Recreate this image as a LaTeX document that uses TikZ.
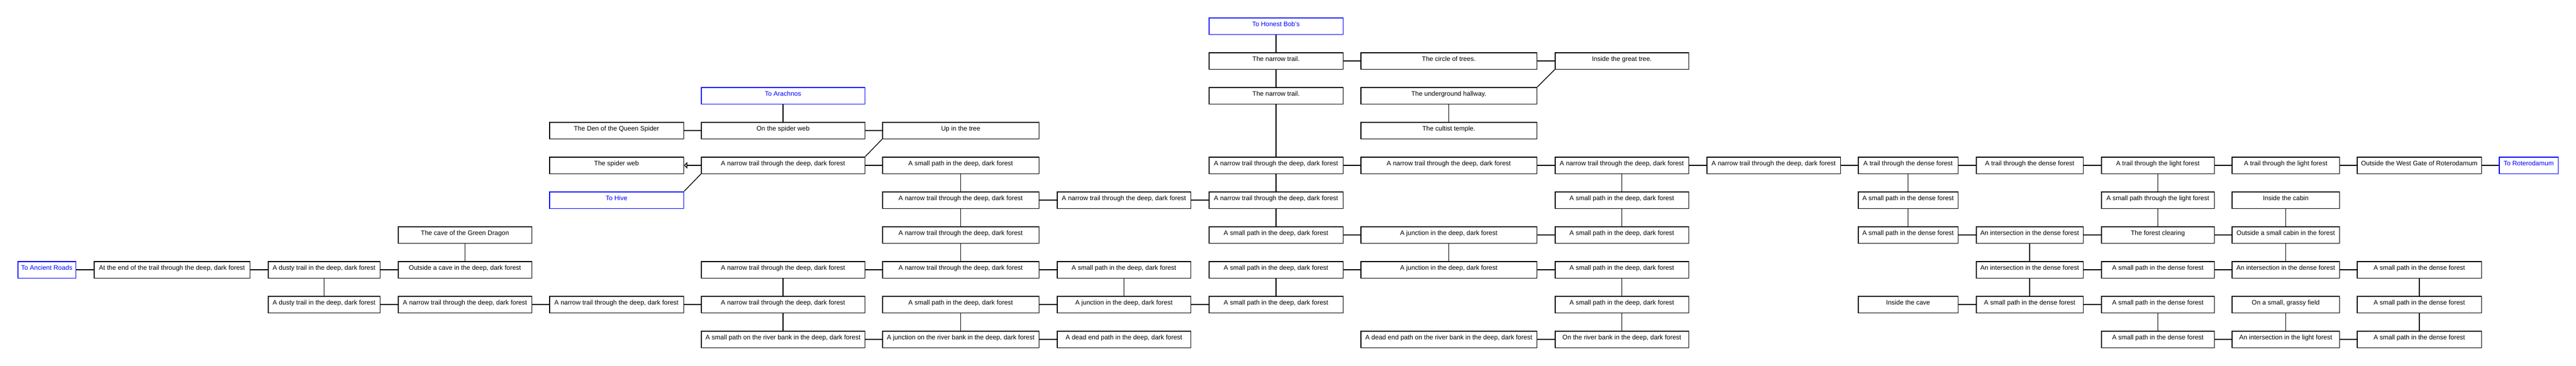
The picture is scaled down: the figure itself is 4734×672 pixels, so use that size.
\documentclass[tikz,border=0pt]{standalone}
\usepackage{fontspec}
\setmainfont{Liberation Sans}
\usepackage{xcolor}
\usetikzlibrary{arrows.meta}

\tikzset{
  room/.style={draw, line width=1.5pt, minimum height=30.5pt, inner sep=2pt,
    font=\fontsize{12pt}{14pt}\selectfont, text height=8pt, text depth=8pt},
  exitroom/.style={room, draw=blue, text=blue},
  link/.style={line width=1.4pt},
}

\begin{document}
\begin{tikzpicture}[x=1pt, y=-1pt]
    \useasboundingbox (0,0) rectangle (4734,672);

    % West
    \node[exitroom, minimum width=106.5pt] (c0r8) at (86, 496) {To Ancient Roads};
    \node[room, minimum width=286.5pt] (c1r8) at (316, 496) {At the end of the trail through the deep, dark forest};
    \node[room, minimum width=205.5pt] (c2r8) at (595.5, 496) {A dusty trail in the deep, dark forest};
    \node[room, minimum width=205.5pt] (c2r9) at (595.5, 560) {A dusty trail in the deep, dark forest};
    \node[room, minimum width=245.5pt] (c3r7) at (854.5, 432) {The cave of the Green Dragon};
    \node[room, minimum width=245.5pt] (c3r8) at (854.5, 496) {Outside a cave in the deep, dark forest};
    \node[room, minimum width=245.5pt] (c3r9) at (854.5, 560) {A narrow trail through the deep, dark forest};

    % Spider area
    \node[room, minimum width=246.5pt] (c4r4) at (1133, 240) {The Den of the Queen Spider};
    \node[room, minimum width=246.5pt] (c4r5) at (1133, 304) {The spider web};
    \node[exitroom, minimum width=246.5pt] (c4r6) at (1133, 368) {To Hive};
    \node[room, minimum width=246.5pt] (c4r9) at (1133, 560) {A narrow trail through the deep, dark forest};
    \node[exitroom, minimum width=300.5pt] (c5r3) at (1439, 176) {To Arachnos};
    \node[room, minimum width=300.5pt] (c5r4) at (1439, 240) {On the spider web};
    \node[room, minimum width=300.5pt] (c5r5) at (1439, 304) {A narrow trail through the deep, dark forest};
    \node[room, minimum width=300.5pt] (c5r8) at (1439, 496) {A narrow trail through the deep, dark forest};
    \node[room, minimum width=300.5pt] (c5r9) at (1439, 560) {A narrow trail through the deep, dark forest};
    \node[room, minimum width=300.5pt] (c5r10) at (1439, 624) {A small path on the river bank in the deep, dark forest};
    \node[room, minimum width=287.5pt] (c6r4) at (1765.5, 240) {Up in the tree};
    \node[room, minimum width=287.5pt] (c6r5) at (1765.5, 304) {A small path in the deep, dark forest};
    \node[room, minimum width=287.5pt] (c6r6) at (1765.5, 368) {A narrow trail through the deep, dark forest};
    \node[room, minimum width=287.5pt] (c6r7) at (1765.5, 432) {A narrow trail through the deep, dark forest};
    \node[room, minimum width=287.5pt] (c6r8) at (1765.5, 496) {A narrow trail through the deep, dark forest};
    \node[room, minimum width=287.5pt] (c6r9) at (1765.5, 560) {A small path in the deep, dark forest};
    \node[room, minimum width=287.5pt] (c6r10) at (1765.5, 624) {A junction on the river bank in the deep, dark forest};
    \node[room, minimum width=245.5pt] (c7r6) at (2065.5, 368) {A narrow trail through the deep, dark forest};
    \node[room, minimum width=245.5pt] (c7r8) at (2065.5, 496) {A small path in the deep, dark forest};
    \node[room, minimum width=245.5pt] (c7r9) at (2065.5, 560) {A junction in the deep, dark forest};
    \node[room, minimum width=245.5pt] (c7r10) at (2065.5, 624) {A dead end path in the deep, dark forest};

    % Great tree
    \node[exitroom, minimum width=246.5pt] (c8r1) at (2345, 48) {To Honest Bob's};
    \node[room, minimum width=246.5pt] (c8r2) at (2345, 112) {The narrow trail.};
    \node[room, minimum width=246.5pt] (c8r3) at (2345, 176) {The narrow trail.};
    \node[room, minimum width=246.5pt] (c8r5) at (2345, 304) {A narrow trail through the deep, dark forest};
    \node[room, minimum width=246.5pt] (c8r6) at (2345, 368) {A narrow trail through the deep, dark forest};
    \node[room, minimum width=246.5pt] (c8r7) at (2345, 432) {A small path in the deep, dark forest};
    \node[room, minimum width=246.5pt] (c8r8) at (2345, 496) {A small path in the deep, dark forest};
    \node[room, minimum width=246.5pt] (c8r9) at (2345, 560) {A small path in the deep, dark forest};
    \node[room, minimum width=323.5pt] (c9r2) at (2662.5, 112) {The circle of trees.};
    \node[room, minimum width=323.5pt] (c9r3) at (2662.5, 176) {The underground hallway.};
    \node[room, minimum width=323.5pt] (c9r4) at (2662.5, 240) {The cultist temple.};
    \node[room, minimum width=323.5pt] (c9r5) at (2662.5, 304) {A narrow trail through the deep, dark forest};
    \node[room, minimum width=323.5pt] (c9r7) at (2662.5, 432) {A junction in the deep, dark forest};
    \node[room, minimum width=323.5pt] (c9r8) at (2662.5, 496) {A junction in the deep, dark forest};
    \node[room, minimum width=323.5pt] (c9r10) at (2662.5, 624) {A dead end path on the river bank in the deep, dark forest};
    \node[room, minimum width=245.5pt] (c10r2) at (2980.5, 112) {Inside the great tree.};
    \node[room, minimum width=245.5pt] (c10r5) at (2980.5, 304) {A narrow trail through the deep, dark forest};
    \node[room, minimum width=245.5pt] (c10r6) at (2980.5, 368) {A small path in the deep, dark forest};
    \node[room, minimum width=245.5pt] (c10r7) at (2980.5, 432) {A small path in the deep, dark forest};
    \node[room, minimum width=245.5pt] (c10r8) at (2980.5, 496) {A small path in the deep, dark forest};
    \node[room, minimum width=245.5pt] (c10r9) at (2980.5, 560) {A small path in the deep, dark forest};
    \node[room, minimum width=245.5pt] (c10r10) at (2980.5, 624) {On the river bank in the deep, dark forest};

    % East
    \node[room, minimum width=245.5pt] (c11r5) at (3259.5, 304) {A narrow trail through the deep, dark forest};
    \node[room, minimum width=183.5pt] (c12r5) at (3506.5, 304) {A trail through the dense forest};
    \node[room, minimum width=183.5pt] (c12r6) at (3506.5, 368) {A small path in the dense forest};
    \node[room, minimum width=183.5pt] (c12r7) at (3506.5, 432) {A small path in the dense forest};
    \node[room, minimum width=183.5pt] (c12r9) at (3506.5, 560) {Inside the cave};
    \node[room, minimum width=196.5pt] (c13r5) at (3730, 304) {A trail through the dense forest};
    \node[room, minimum width=196.5pt] (c13r7) at (3730, 432) {An intersection in the dense forest};
    \node[room, minimum width=196.5pt] (c13r8) at (3730, 496) {An intersection in the dense forest};
    \node[room, minimum width=196.5pt] (c13r9) at (3730, 560) {A small path in the dense forest};
    \node[room, minimum width=207.5pt] (c14r5) at (3965.5, 304) {A trail through the light forest};
    \node[room, minimum width=207.5pt] (c14r6) at (3965.5, 368) {A small path through the light forest};
    \node[room, minimum width=207.5pt] (c14r7) at (3965.5, 432) {The forest clearing};
    \node[room, minimum width=207.5pt] (c14r8) at (3965.5, 496) {A small path in the dense forest};
    \node[room, minimum width=207.5pt] (c14r9) at (3965.5, 560) {A small path in the dense forest};
    \node[room, minimum width=207.5pt] (c14r10) at (3965.5, 624) {A small path in the dense forest};
    \node[room, minimum width=197.5pt] (c15r5) at (4200.5, 304) {A trail through the light forest};
    \node[room, minimum width=197.5pt] (c15r6) at (4200.5, 368) {Inside the cabin};
    \node[room, minimum width=197.5pt] (c15r7) at (4200.5, 432) {Outside a small cabin in the forest};
    \node[room, minimum width=197.5pt] (c15r8) at (4200.5, 496) {An intersection in the dense forest};
    \node[room, minimum width=197.5pt] (c15r9) at (4200.5, 560) {On a small, grassy field};
    \node[room, minimum width=197.5pt] (c15r10) at (4200.5, 624) {An intersection in the light forest};
    \node[room, minimum width=228.5pt] (c16r5) at (4446, 304) {Outside the West Gate of Roterodamum};
    \node[room, minimum width=228.5pt] (c16r8) at (4446, 496) {A small path in the dense forest};
    \node[room, minimum width=228.5pt] (c16r9) at (4446, 560) {A small path in the dense forest};
    \node[room, minimum width=228.5pt] (c16r10) at (4446, 624) {A small path in the dense forest};
    \node[exitroom, minimum width=108.5pt] (c17r5) at (4647, 304) {To Roterodamum};

    % Horizontal links
    \draw[link] (c0r8) -- (c1r8);
    \draw[link] (c1r8) -- (c2r8);
    \draw[link] (c2r8) -- (c3r8);
    \draw[link] (c2r9) -- (c3r9);
    \draw[link] (c3r9) -- (c4r9);
    \draw[link] (c4r9) -- (c5r9);
    \draw[link] (c4r4) -- (c5r4);
    \draw[link] (c5r4) -- (c6r4);
    \draw[link, -{Triangle[open, length=6pt, width=12pt]}] (c5r5) -- (c4r5);
    \draw[link] (c5r5) -- (c6r5);
    \draw[link] (c6r6) -- (c7r6);
    \draw[link] (c7r6) -- (c8r6);
    \draw[link] (c5r8) -- (c6r8);
    \draw[link] (c6r8) -- (c7r8);
    \draw[link] (c6r9) -- (c7r9);
    \draw[link] (c7r9) -- (c8r9);
    \draw[link] (c5r10) -- (c6r10);
    \draw[link] (c6r10) -- (c7r10);
    \draw[link] (c8r2) -- (c9r2);
    \draw[link] (c9r2) -- (c10r2);
    \draw[link] (c8r5) -- (c9r5);
    \draw[link] (c9r5) -- (c10r5);
    \draw[link] (c10r5) -- (c11r5);
    \draw[link] (c11r5) -- (c12r5);
    \draw[link] (c12r5) -- (c13r5);
    \draw[link] (c13r5) -- (c14r5);
    \draw[link] (c14r5) -- (c15r5);
    \draw[link] (c15r5) -- (c16r5);
    \draw[link] (c16r5) -- (c17r5);
    \draw[link] (c8r7) -- (c9r7);
    \draw[link] (c9r7) -- (c10r7);
    \draw[link] (c8r8) -- (c9r8);
    \draw[link] (c9r8) -- (c10r8);
    \draw[link] (c9r10) -- (c10r10);
    \draw[link] (c12r7) -- (c13r7);
    \draw[link] (c13r7) -- (c14r7);
    \draw[link] (c14r7) -- (c15r7);
    \draw[link] (c13r8) -- (c14r8);
    \draw[link] (c14r8) -- (c15r8);
    \draw[link] (c15r8) -- (c16r8);
    \draw[link] (c12r9) -- (c13r9);
    \draw[link] (c13r9) -- (c14r9);
    \draw[link] (c14r10) -- (c15r10);
    \draw[link] (c15r10) -- (c16r10);

    % Vertical links
    \draw[link] (c3r7) -- (c3r8);
    \draw[link] (c2r8) -- (c2r9);
    \draw[link] (c5r3) -- (c5r4);
    \draw[link] (c6r5) -- (c6r6);
    \draw[link] (c6r6) -- (c6r7);
    \draw[link] (c6r7) -- (c6r8);
    \draw[link] (c5r8) -- (c5r9);
    \draw[link] (c5r9) -- (c5r10);
    \draw[link] (c6r9) -- (c6r10);
    \draw[link] (c7r8) -- (c7r9);
    \draw[link] (c8r1) -- (c8r2);
    \draw[link] (c8r2) -- (c8r3);
    \draw[link] (c8r3) -- (c8r5);
    \draw[link] (c8r5) -- (c8r6);
    \draw[link] (c8r6) -- (c8r7);
    \draw[link] (c8r8) -- (c8r9);
    \draw[link] (c9r3) -- (c9r4);
    \draw[link] (c9r7) -- (c9r8);
    \draw[link] (c10r5) -- (c10r6);
    \draw[link] (c10r6) -- (c10r7);
    \draw[link] (c10r8) -- (c10r9);
    \draw[link] (c10r9) -- (c10r10);
    \draw[link] (c12r5) -- (c12r6);
    \draw[link] (c12r6) -- (c12r7);
    \draw[link] (c13r7) -- (c13r8);
    \draw[link] (c13r8) -- (c13r9);
    \draw[link] (c14r5) -- (c14r6);
    \draw[link] (c14r6) -- (c14r7);
    \draw[link] (c14r9) -- (c14r10);
    \draw[link] (c15r6) -- (c15r7);
    \draw[link] (c15r7) -- (c15r8);
    \draw[link] (c15r9) -- (c15r10);
    \draw[link] (c16r8) -- (c16r9);
    \draw[link] (c16r9) -- (c16r10);

    % Diagonal links
    \draw[link] (c6r4.south west) -- (c5r5.north east);
    \draw[link] (c5r5.south west) -- (c4r6.north east);
    \draw[link] (c10r2.south west) -- (c9r3.north east);
\end{tikzpicture}
\end{document}
